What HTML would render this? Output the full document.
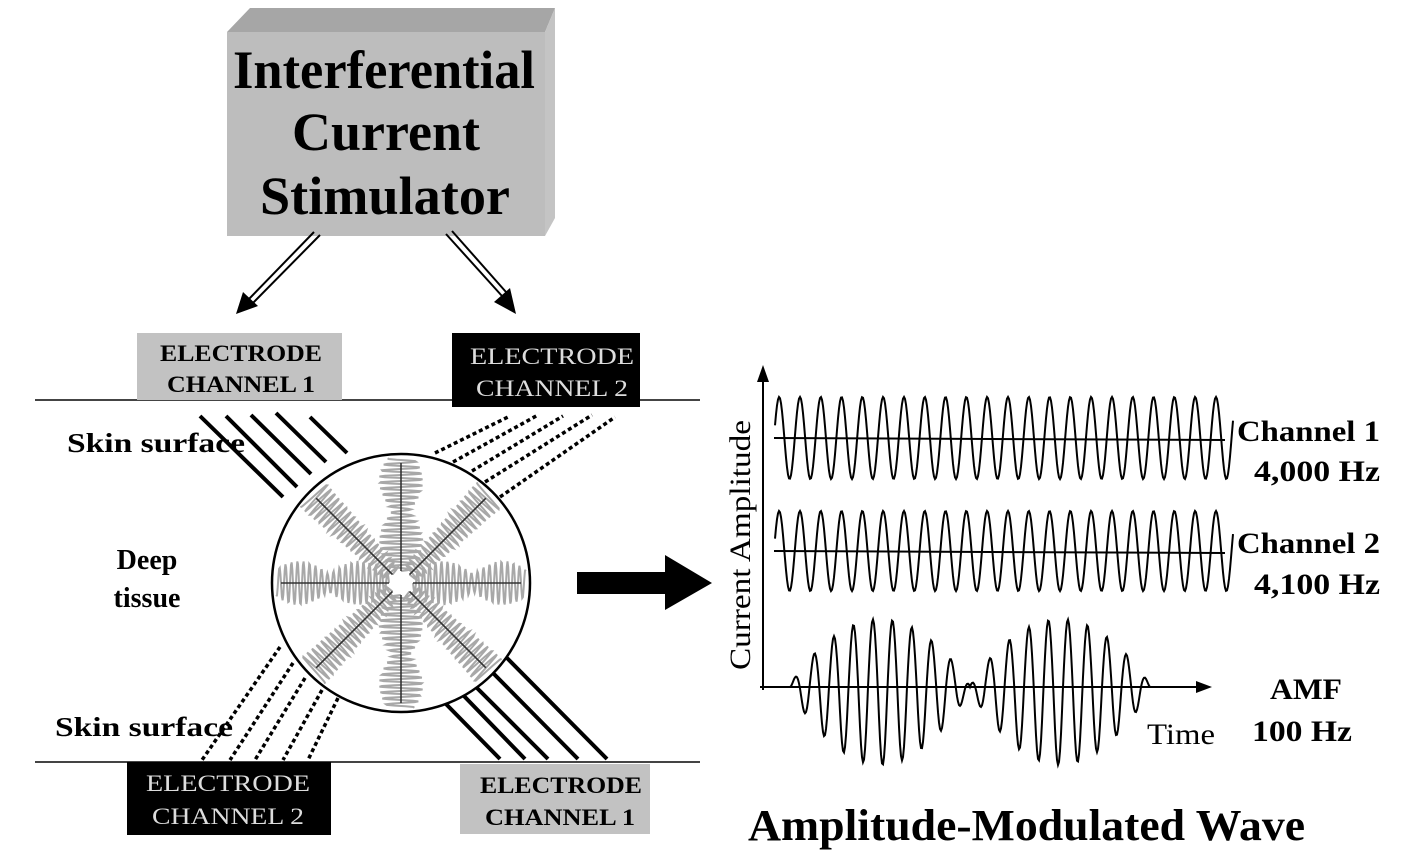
<!DOCTYPE html>
<html><head><meta charset="utf-8"><style>
html,body{margin:0;padding:0;background:#fff;}
svg{display:block;}
text{font-family:"Liberation Serif",serif;}
</style></head><body>
<svg id="s" width="1416" height="855" viewBox="0 0 1416 855" xmlns="http://www.w3.org/2000/svg">
<!-- 3D box -->
<polygon points="227,32 250,8 555,8 545,32" fill="#a6a6a6"/>
<polygon points="545,32 555,8 555,218 545,236" fill="#c4c4c4"/>
<rect x="227" y="32" width="318" height="204" fill="#bdbdbd"/>
<text x="233" y="88" textLength="302" lengthAdjust="spacingAndGlyphs" font-size="54" font-weight="bold">Interferential</text>
<text x="386" y="150" text-anchor="middle" font-size="54" font-weight="bold">Current</text>
<text x="385" y="214" text-anchor="middle" font-size="54" font-weight="bold" textLength="250" lengthAdjust="spacingAndGlyphs">Stimulator</text>
<!-- arrows from box -->
<g stroke="#000" stroke-width="2" fill="none">
<line x1="314" y1="232" x2="248" y2="300"/><line x1="320" y1="235" x2="252" y2="304"/>
<line x1="446" y1="234" x2="502" y2="296"/><line x1="452" y1="231" x2="506" y2="292"/>
</g>
<polygon points="236,314 243,292 258,306" fill="#000"/>
<polygon points="516,314 494,302 510,288" fill="#000"/>
<!-- skin lines -->
<line x1="35" y1="400" x2="700" y2="400" stroke="#444" stroke-width="2"/>
<line x1="35" y1="762" x2="700" y2="762" stroke="#444" stroke-width="2"/>
<!-- electrodes -->
<rect x="137" y="333" width="205" height="67" fill="#c2c2c2"/>
<text x="160" y="361" textLength="162" lengthAdjust="spacingAndGlyphs" font-size="23" font-weight="bold">ELECTRODE</text>
<text x="167" y="392" textLength="148" lengthAdjust="spacingAndGlyphs" font-size="23" font-weight="bold">CHANNEL 1</text>
<rect x="452" y="333" width="188" height="74" fill="#000"/>
<text x="470" y="364" textLength="164" lengthAdjust="spacingAndGlyphs" font-size="23" fill="#ddd">ELECTRODE</text>
<text x="476" y="396" textLength="152" lengthAdjust="spacingAndGlyphs" font-size="23" fill="#ddd">CHANNEL 2</text>
<rect x="127" y="762" width="204" height="73" fill="#000"/>
<text x="146" y="791" textLength="164" lengthAdjust="spacingAndGlyphs" font-size="23" fill="#ddd">ELECTRODE</text>
<text x="152" y="824" textLength="152" lengthAdjust="spacingAndGlyphs" font-size="23" fill="#ddd">CHANNEL 2</text>
<rect x="460" y="764" width="190" height="70" fill="#c2c2c2"/>
<text x="480" y="793" textLength="162" lengthAdjust="spacingAndGlyphs" font-size="23" font-weight="bold">ELECTRODE</text>
<text x="485" y="825" textLength="150" lengthAdjust="spacingAndGlyphs" font-size="23" font-weight="bold">CHANNEL 1</text>
<!-- solid & dotted lines -->
<g stroke="#000" stroke-width="4">
<line x1="200" y1="416" x2="283" y2="497"/><line x1="226" y1="416" x2="297" y2="487"/>
<line x1="251" y1="415" x2="311" y2="474"/><line x1="276" y1="413" x2="326" y2="462"/>
<line x1="310" y1="417" x2="347" y2="453"/>
<line x1="445" y1="703" x2="500" y2="759"/><line x1="463" y1="695" x2="525" y2="759"/>
<line x1="477" y1="688" x2="548" y2="759"/><line x1="493" y1="673" x2="578" y2="759"/>
<line x1="507" y1="658" x2="607" y2="759"/>
</g>
<g stroke="#000" stroke-width="3.5" stroke-dasharray="4,3">
<line x1="435" y1="453" x2="510" y2="416"/><line x1="453" y1="462" x2="538" y2="415"/>
<line x1="472" y1="471" x2="563" y2="416"/><line x1="485" y1="482" x2="592" y2="415"/>
<line x1="500" y1="497" x2="615" y2="417"/>
<line x1="280" y1="647" x2="202" y2="760"/><line x1="293" y1="663" x2="230" y2="760"/>
<line x1="305" y1="678" x2="255" y2="760"/><line x1="322" y1="690" x2="283" y2="760"/>
<line x1="338" y1="698" x2="308" y2="760"/>
</g>
<!-- circle -->
<circle cx="401" cy="583" r="129" fill="#fff" stroke="#000" stroke-width="2.5"/>
<g id="rays"></g>
<!-- labels left -->
<text x="67" y="452" font-size="27" font-weight="bold" textLength="178" lengthAdjust="spacingAndGlyphs">Skin surface</text>
<text x="147" y="569" text-anchor="middle" font-size="28" font-weight="bold">Deep</text>
<text x="147" y="607" text-anchor="middle" font-size="28" font-weight="bold">tissue</text>
<text x="55" y="736" font-size="27" font-weight="bold" textLength="178" lengthAdjust="spacingAndGlyphs">Skin surface</text>
<!-- big arrow -->
<polygon points="577,572 665,572 665,555 712,583 665,610 665,594 577,594" fill="#000"/>
<!-- axes -->
<line x1="763" y1="380" x2="763" y2="690" stroke="#000" stroke-width="2"/>
<polygon points="757,382 769,382 763,365" fill="#000"/>
<line x1="760" y1="687" x2="1200" y2="687" stroke="#000" stroke-width="2"/>
<polygon points="1196,681 1196,693 1212,687" fill="#000"/>
<line x1="774" y1="438" x2="1225" y2="440" stroke="#000" stroke-width="2"/>
<line x1="774" y1="551" x2="1225" y2="553" stroke="#000" stroke-width="2"/>
<g id="waves" fill="none" stroke="#000" stroke-width="2"></g>
<text transform="translate(750,545) rotate(-90)" text-anchor="middle" font-size="30" textLength="250" lengthAdjust="spacingAndGlyphs">Current Amplitude</text>
<text x="1237" y="441" font-size="30" font-weight="bold" textLength="143" lengthAdjust="spacingAndGlyphs">Channel 1</text>
<text x="1254" y="481" font-size="30" font-weight="bold" textLength="126" lengthAdjust="spacingAndGlyphs">4,000 Hz</text>
<text x="1237" y="553" font-size="30" font-weight="bold" textLength="143" lengthAdjust="spacingAndGlyphs">Channel 2</text>
<text x="1254" y="594" font-size="30" font-weight="bold" textLength="126" lengthAdjust="spacingAndGlyphs">4,100 Hz</text>
<text x="1270" y="699" font-size="30" font-weight="bold" textLength="72" lengthAdjust="spacingAndGlyphs">AMF</text>
<text x="1252" y="741" font-size="30" font-weight="bold" textLength="100" lengthAdjust="spacingAndGlyphs">100 Hz</text>
<text x="1147" y="744" font-size="30" textLength="68" lengthAdjust="spacingAndGlyphs">Time</text>
<text x="748" y="840" font-size="44" font-weight="bold" textLength="557" lengthAdjust="spacingAndGlyphs">Amplitude-Modulated Wave</text>
</svg>
<script>
var NS="http://www.w3.org/2000/svg";
function P(d,parent,attrs){var p=document.createElementNS(NS,"path");p.setAttribute("d",d);for(var k in attrs)p.setAttribute(k,attrs[k]);document.getElementById(parent).appendChild(p);}
function sine(x0,x1,y0,A,per,ph){var d="";for(var x=x0;x<=x1;x+=1){var y=y0-A*Math.sin(2*Math.PI*(x-x0)/per+ph);d+=(x==x0?"M":"L")+x+","+y.toFixed(1);}return d;}
P(sine(775,1233,438,41,20.8,Math.PI/2*0.2),"waves",{});
P(sine(775,1233,551,40,20.8,Math.PI/2*0.2),"waves",{});
var d="";for(var x=790;x<=1150;x++){var env=Math.pow(Math.abs(Math.sin(Math.PI*(x-790)/180)),0.8);var s=Math.sin(2*Math.PI*(x-790)/19.5);var A=s>0?68*env:78*env;var y=687-A*s;d+=(x==790?"M":"L")+x+","+y.toFixed(1);}
P(d,"waves",{});
var cx=401,cy=583;
for(var i=0;i<8;i++){var ang=i*Math.PI/4;var c=Math.cos(ang),sn=Math.sin(ang);var nx=-sn,ny=c;var g="",r0=12,r1=125;
 for(var t=r0;t<=r1;t+=0.7){var e=(i%2==0)?(0.4+0.6*Math.abs(Math.sin(Math.PI*(t-r0)/60))):(0.5+0.5*(t-r0)/(r1-r0));var amp=(i%2==0?22:18)*e*Math.sin(2*Math.PI*t/6);
  var px=cx+c*t+nx*amp,py=cy+sn*t+ny*amp;g+=(t==r0?"M":"L")+px.toFixed(1)+","+py.toFixed(1);}
 P(g,"rays",{fill:"none",stroke:"#a8a8a8","stroke-width":"2"});
 P("M"+(cx+c*r0)+","+(cy+sn*r0)+"L"+(cx+c*(r1-5))+","+(cy+sn*(r1-5)),"rays",{stroke:"#333","stroke-width":"1.6"});
}
</script>
</body></html>
